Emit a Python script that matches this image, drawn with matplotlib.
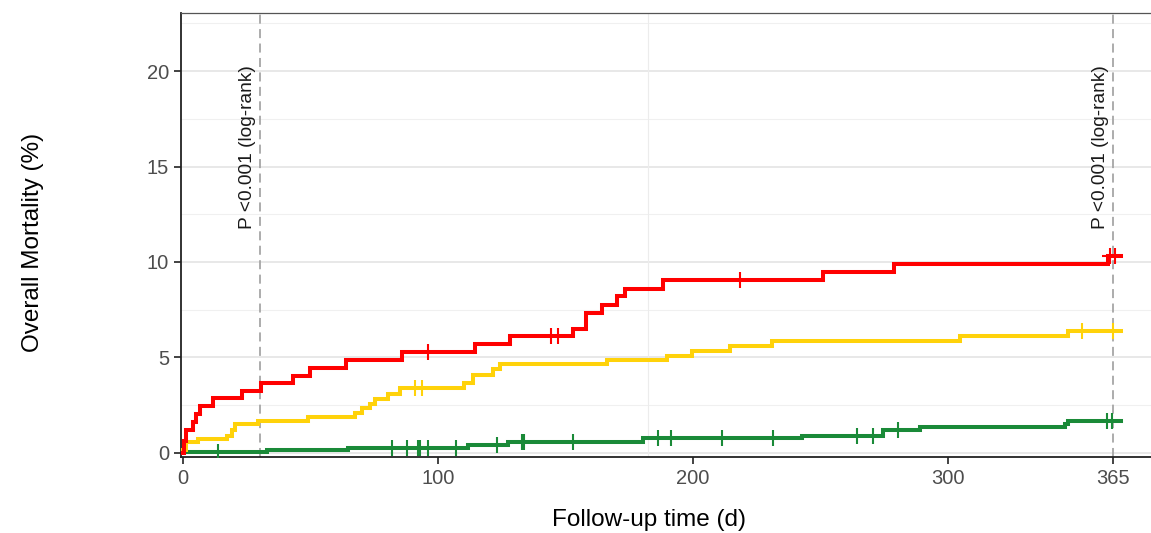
import numpy as np
import matplotlib
matplotlib.use("Agg")
import matplotlib.pyplot as plt

plt.rcParams['font.family'] = ['Liberation Sans', 'DejaVu Sans']

# Curvas de mortalidade acumulada (%) - tempos em dias
tempo_vermelho = [0, 0.3, 1.2, 3.8, 5.1, 6.5, 11.8, 22.9, 30.4, 42.9, 49.7, 63.9, 85.9,
                  114.5, 128.2, 153, 158, 164.2, 170, 173.4, 188.4, 251.2, 278.7, 363, 368]
mort_vermelho = [0, 0.6, 1.2, 1.6, 2.05, 2.45, 2.85, 3.25, 3.65, 4.05, 4.45, 4.85, 5.3,
                 5.7, 6.1, 6.5, 7.35, 7.75, 8.2, 8.6, 9.05, 9.45, 9.9, 10.3, 10.3]
cens_vermelho = [96.2, 144.3, 147, 218.5, 363.8, 365.5]

tempo_amarelo = [0, 1, 5.9, 17, 19, 20.3, 29.4, 49, 67.4, 70, 73.3, 75.2, 80.5, 85,
                 110, 113.8, 121.7, 124.3, 166.2, 189.7, 199.5, 214.6, 230.9, 304.8, 347, 368]
mort_amarelo = [0.15, 0.58, 0.7, 0.87, 1.19, 1.49, 1.66, 1.89, 2.1, 2.33, 2.55, 2.8, 3.06, 3.4,
                3.67, 4.07, 4.37, 4.65, 4.86, 5.08, 5.35, 5.59, 5.87, 6.12, 6.36, 6.36]
cens_amarelo = [91, 93.8, 352.6, 365]

tempo_verde = [0, 32.7, 64.8, 111.9, 127.6, 180.5, 242.7, 274.5, 288.9, 346, 347.3, 368]
mort_verde = [0.03, 0.14, 0.27, 0.4, 0.55, 0.75, 0.89, 1.19, 1.36, 1.52, 1.68, 1.68]
cens_verde = [13.6, 81.8, 87.9, 92, 92.9, 95.9, 107, 123, 132.8, 133.7, 153, 186.2, 191.3,
              211.3, 231.3, 264.5, 270.6, 280.4, 362.6, 364.6]

x_ticks = [0, 100, 200, 300, 365]
y_ticks = [0, 5, 10, 15, 20]
linhas_pvalor = [30, 365]
texto_pvalor = "P <0.001 (log-rank)"


def valor_no_tempo(tempos, valores, t):
    i = np.searchsorted(tempos, t, side='right') - 1
    return valores[max(i, 0)]


fig = plt.figure(figsize=(11.51, 5.33), dpi=100)
ax = fig.add_axes([181 / 1151, 76 / 533, 975 / 1151, 444 / 533])

# Grade
for y in y_ticks:
    ax.axhline(y, color='#e6e6e6', lw=1.3, zorder=0)
for y in np.arange(2.5, 23, 5):
    ax.axhline(y, color='#f0f0f0', lw=0.8, zorder=0)
ax.axvline(182.5, color='#ececec', lw=0.8, zorder=0)

# Linhas verticais tracejadas
for xv in linhas_pvalor:
    ax.axvline(xv, color='#a6a6a6', lw=1.3, ls=(0, (5, 3)), zorder=1)
    ax.text(xv - 1.6, 16, texto_pvalor, rotation=90, ha='right', va='center',
            fontsize=13.8, color='#1a1a1a')

curvas = [
    (tempo_verde, mort_verde, cens_verde, '#1a8a38'),
    (tempo_amarelo, mort_amarelo, cens_amarelo, '#ffd20a'),
    (tempo_vermelho, mort_vermelho, cens_vermelho, '#ff0000'),
]
for tempos, valores, cens, cor in curvas:
    ax.step(tempos, valores, where='post', color=cor, lw=2.9, zorder=3,
            solid_joinstyle='miter')
    ys = [valor_no_tempo(tempos, valores, t) for t in cens]
    ax.plot(cens, ys, ls='none', marker='+', ms=12, mew=1.5, color=cor, zorder=4)

ax.set_xlim(-0.9, 381.7)
ax.set_ylim(-0.22, 23.05)
ax.set_xticks(x_ticks)
ax.set_yticks(y_ticks)
ax.tick_params(axis='both', labelsize=14.5, labelcolor='#4d4d4d', color='#222222',
               length=5, width=1.2)

for lado in ['left', 'bottom']:
    ax.spines[lado].set_color('#222222')
    ax.spines[lado].set_linewidth(1.3)
ax.spines['top'].set_color('#555555')
ax.spines['top'].set_linewidth(0.9)
ax.spines['right'].set_visible(False)

fig.text(649 / 1151, 13 / 533, "Follow-up time (d)", ha='center', va='center', fontsize=17.5)
fig.text(33 / 1151, 1 - 242 / 533, "Overall Mortality (%)", ha='center', va='center',
         rotation=90, fontsize=17.5)

fig.savefig("out.png", dpi=100)
